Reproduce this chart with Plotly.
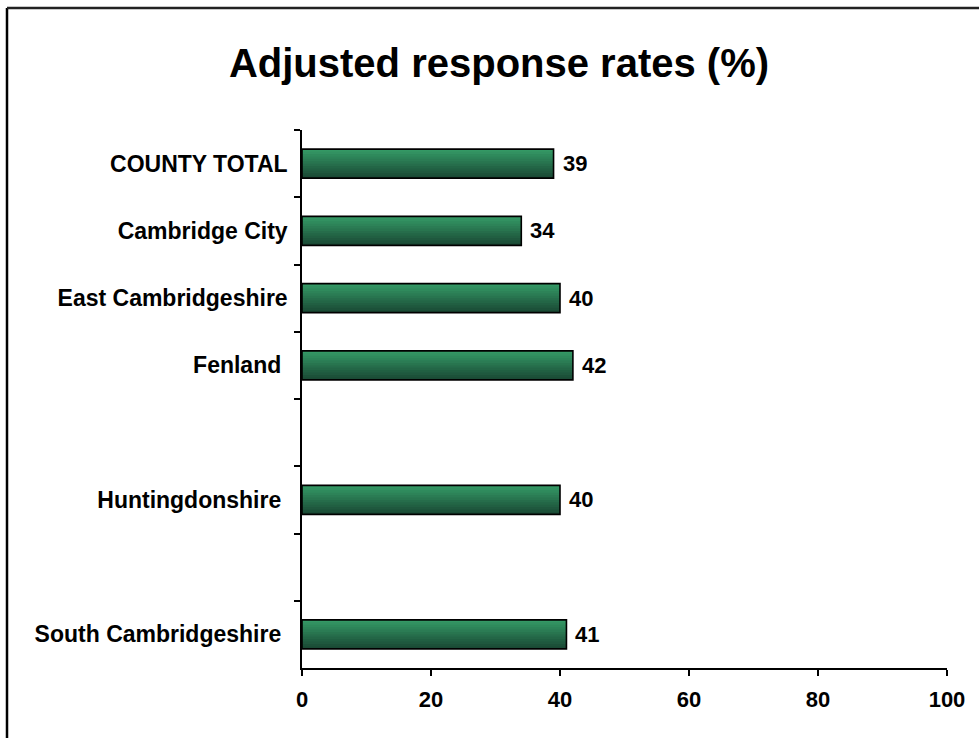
import plotly.graph_objects as go

# ---- data ----
categories = ["COUNTY TOTAL", "Cambridge City", "East Cambridgeshire", "Fenland ",
              " ", "Huntingdonshire ", "  ", "South Cambridgeshire "]
values = [39, 34, 40, 42, None, 40, None, 41]
title_text = "Adjusted response rates (%)"
x_ticks = [0, 20, 40, 60, 80, 100]

# ---- layout geometry ----
W, H = 979, 738
L, R, T, B = 302, 32, 130, 70
pw, ph = W - L - R, H - T - B

FONT = "Liberation Sans, Arial, sans-serif"
bar_w = 0.43
n_strips = 12
top_rgb = (0x34, 0x98, 0x65)
bot_rgb = (0x1a, 0x4a, 0x35)

fig = go.Figure()

# gradient: stack thin strips along the category direction
step = bar_w / n_strips
for k in range(n_strips):
    t = k / (n_strips - 1)
    c = tuple(int(round(top_rgb[i] + (bot_rgb[i] - top_rgb[i]) * t)) for i in range(3))
    wdt = step * (1.8 if k < n_strips - 1 else 1.0)
    fig.add_trace(go.Bar(
        x=values, y=categories, orientation="h",
        width=wdt,
        offset=-bar_w / 2 + k * step,
        marker=dict(color="rgb(%d,%d,%d)" % c, line=dict(width=0)),
        hoverinfo="skip", showlegend=False,
    ))

# outline
fig.add_trace(go.Bar(
    x=values, y=categories, orientation="h",
    width=bar_w, offset=-bar_w / 2,
    marker=dict(color="rgba(0,0,0,0)", line=dict(color="black", width=1.6)),
    hoverinfo="skip", showlegend=False,
))

# value labels
for cat, v in zip(categories, values):
    if v is None:
        continue
    fig.add_annotation(x=v, y=cat, text=str(v), showarrow=False,
                       xanchor="left", yanchor="middle", xshift=7,
                       font=dict(family=FONT, size=22, color="black", weight="bold"))

# outer frame (left and top edges visible)
xl = (7 - L) / pw
yt = (H - B - 8) / ph
fig.add_shape(type="line", xref="paper", yref="paper", x0=xl, x1=xl, y0=-0.3, y1=yt,
              line=dict(color="black", width=2.5))
fig.add_shape(type="line", xref="paper", yref="paper", x0=xl, x1=1.2, y0=yt, y1=yt,
              line=dict(color="#222222", width=2.5))

fig.update_layout(
    width=W, height=H,
    margin=dict(l=L, r=R, t=T, b=B, pad=0),
    paper_bgcolor="white", plot_bgcolor="white",
    barmode="overlay",
    title=dict(text=title_text, x=499 / W, xref="container", xanchor="center",
               y=1 - 63 / H, yanchor="middle",
               font=dict(family=FONT, size=40, color="black", weight="bold")),
    xaxis=dict(range=[0, 100], tickvals=x_ticks, showgrid=False, zeroline=False,
               showline=True, linecolor="black", linewidth=1.5,
               ticks="outside", ticklen=6, tickcolor="black", tickwidth=1.5,
               ticklabelstandoff=5,
               tickfont=dict(family=FONT, size=22, color="black", weight="bold")),
    yaxis=dict(categoryorder="array", categoryarray=categories,
               range=[len(categories) - 0.5, -0.5], showgrid=False, zeroline=False,
               showline=True, linecolor="black", linewidth=1.5,
               ticks="outside", ticklen=6, tickcolor="black", tickwidth=1.5,
               tickson="boundaries", ticklabelstandoff=8,
               tickfont=dict(family=FONT, size=23, color="black", weight="bold")),
)

fig.write_html("out.html")
